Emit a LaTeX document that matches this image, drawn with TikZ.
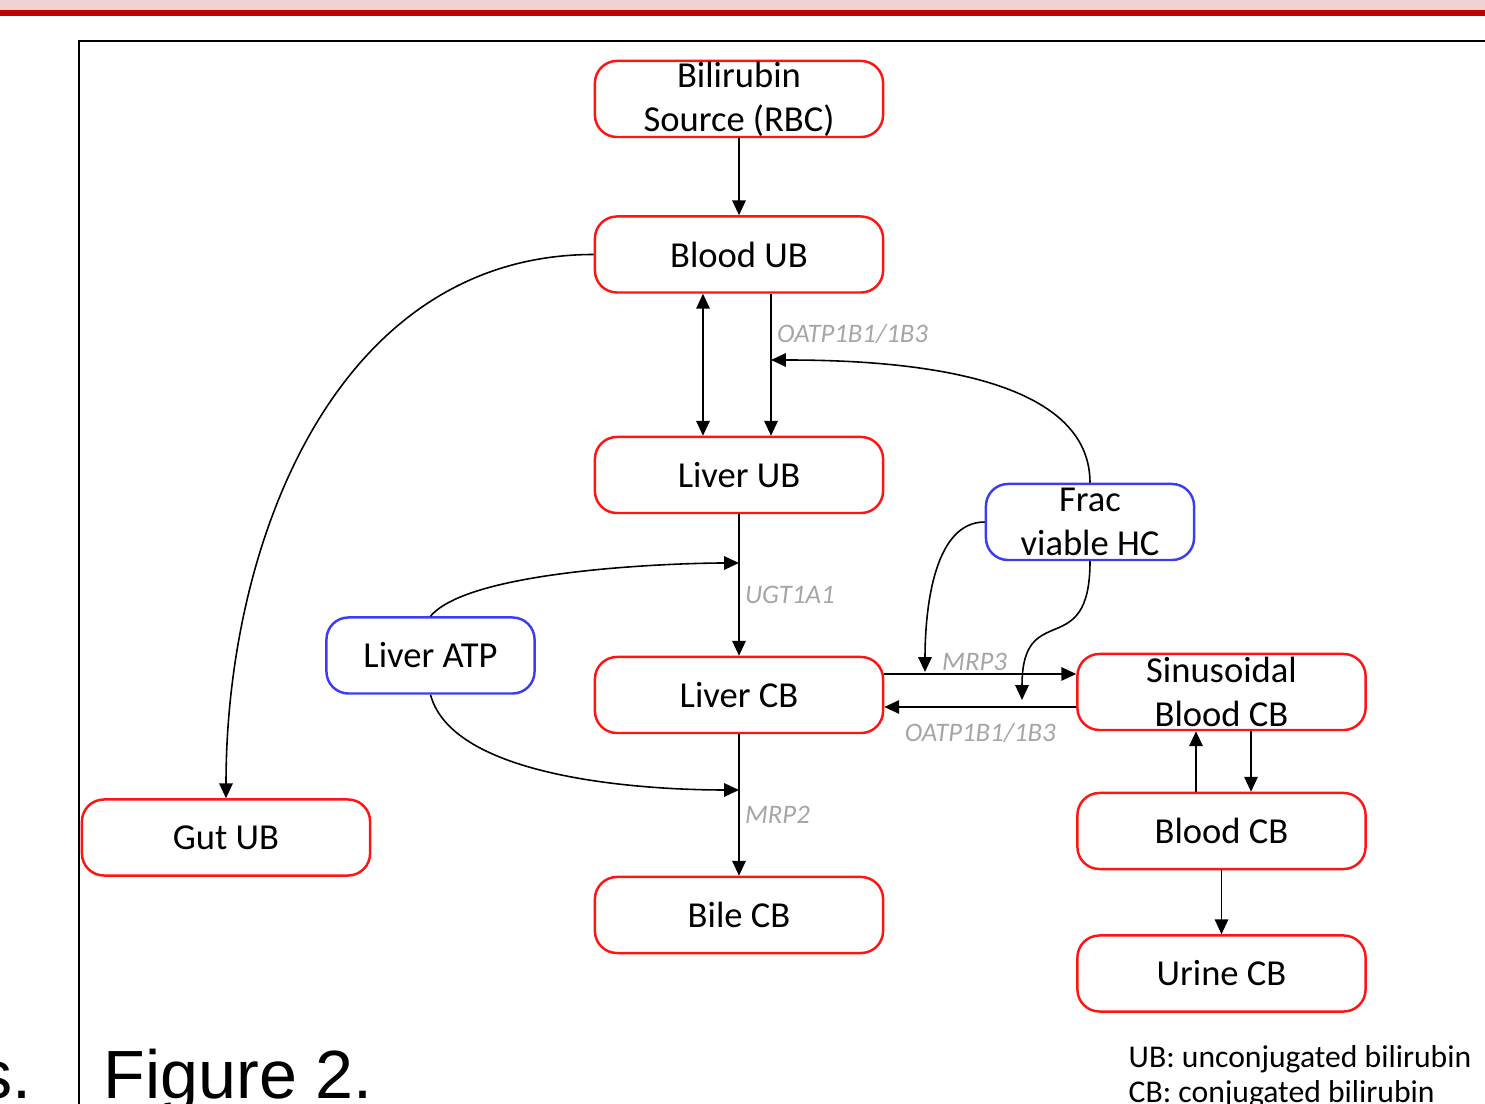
\documentclass[tikz,border=0pt]{standalone}
\usepackage{fontspec}
\setmainfont{Carlito}
\newfontfamily\figfont{Liberation Sans}
\usepackage{xcolor}
\usepackage{tikz}
\usetikzlibrary{arrows.meta}
\definecolor{boxred}{RGB}{255,20,20}
\definecolor{boxblue}{RGB}{60,60,245}
\definecolor{lblgray}{RGB}{165,165,165}
\definecolor{bandpink}{RGB}{240,210,210}
\definecolor{bandred}{RGB}{192,0,0}
\tikzset{pool/.style={draw=boxred,line width=0.7pt,rounded corners=2.2mm,
    minimum width=2.88cm,minimum height=0.76cm,inner sep=0pt,align=center,
    font=\fontsize{10.4}{12.5}\selectfont},
    ctrl/.style={pool,draw=boxblue,minimum width=2.08cm},
    flow/.style={draw,line width=0.45pt,->,>={Triangle[length=4.2pt,width=3.8pt]}},
    lbl/.style={text=lblgray,font=\fontsize{7.6}{9}\selectfont\itshape,inner sep=1.5pt},
    x=0.01cm,y=-0.01cm}

\begin{document}
\begin{tikzpicture}[]
    \useasboundingbox (0,0) rectangle (1485,1104);
    \clip (0,0) rectangle (1485,1104);
    \fill[bandpink] (0,0) rectangle (1485,10);
    \fill[bandred] (0,10) rectangle (1485,16);
    \draw[line width=0.8pt] (79,1110) -- (79,41) -- (1490,41);

    \node[pool] (source) at (739,99) {Bilirubin\\Source (RBC)};
    \node[pool] (bloodub) at (739,254.5) {Blood UB};
    \node[pool] (liverub) at (739,475) {Liver UB};
    \node[pool] (livercb) at (739,695) {Liver CB};
    \node[pool] (bilecb) at (739,915) {Bile CB};
    \node[pool] (gutub) at (226,837.5) {Gut UB};
    \node[ctrl] (liveratp) at (430.5,655.5) {Liver ATP};
    \node[ctrl] (frachc) at (1090,522) {Frac\\viable HC};
    \node[pool] (sinuscb) at (1221.5,692) {Sinusoidal\\Blood CB};
    \node[pool] (bloodcb) at (1221.5,831) {Blood CB};
    \node[pool] (urinecb) at (1221.5,973.5) {Urine CB};

    \coordinate (oatpin) at (771,360);
    \coordinate (ugtin) at (739,563);
    \coordinate (mrp2in) at (739,790);
    \coordinate (mrp3hc) at (925,672);
    \coordinate (oatphc) at (1022,700);
    \coordinate (mrp3out) at ([yshift=2.1mm]livercb.east);
    \coordinate (oatpback) at ([yshift=-1.5mm]sinuscb.west);

    \draw[flow] (source) -- (bloodub);
    \draw[flow,<->] ([xshift=-3.6mm]bloodub.south) -- ([xshift=-3.6mm]liverub.north);
    \draw[flow] ([xshift=3.2mm]bloodub.south) -- node[lbl,pos=0.28,right] {OATP1B1/1B3} ([xshift=3.2mm]liverub.north);
    \draw[flow] (frachc.north) to[out=90,in=0,looseness=0.85] (oatpin);
    \draw[flow] (liverub) -- node[lbl,pos=0.57,right] {UGT1A1} (livercb);
    \draw[flow] (liveratp.north) to[out=50,in=180,looseness=0.5] (ugtin);
    \draw[flow] (liveratp.south) to[out=-75,in=180,looseness=0.7] (mrp2in);
    \draw[flow] (livercb) -- node[lbl,pos=0.57,right] {MRP2} (bilecb);
    \draw[flow] (mrp3out) -- node[lbl,pos=0.47,above=-0.3mm] {MRP3} (mrp3out -| sinuscb.west);
    \draw[flow] (oatpback) -- node[lbl,pos=0.5,below=1mm] {OATP1B1/1B3} (oatpback -| livercb.east);
    \draw[flow] (frachc.west) to[out=180,in=90,looseness=0.85] (mrp3hc);
    \draw[flow] (frachc.south) to[out=-90,in=90,looseness=1.7] (oatphc);
    \draw[flow] (bloodub.west) to[out=180,in=90] (gutub.north);
    \draw[flow] ([xshift=-2.55mm]bloodcb.north) -- ([xshift=-2.55mm]sinuscb.south);
    \draw[flow] ([xshift=2.95mm]sinuscb.south) -- ([xshift=2.95mm]bloodcb.north);
    \draw[flow] (bloodcb) -- (urinecb);

    \node[anchor=base west,inner sep=0pt,font=\figfont\fontsize{19.4}{22}\selectfont] (figlbl) at (103,1098) {Figure 2.};
    \node[anchor=base east,inner sep=0pt,font=\figfont\fontsize{19.4}{22}\selectfont] (cuttext) at (32,1098) {s.};
    \node[anchor=base west,inner sep=0pt,font=\fontsize{9}{10}\selectfont] (ublegend) at (1128,1067) {UB: unconjugated bilirubin};
    \node[anchor=base west,inner sep=0pt,font=\fontsize{9}{10}\selectfont] (cblegend) at (1128,1102) {CB: conjugated bilirubin};
\end{tikzpicture}
\end{document}
